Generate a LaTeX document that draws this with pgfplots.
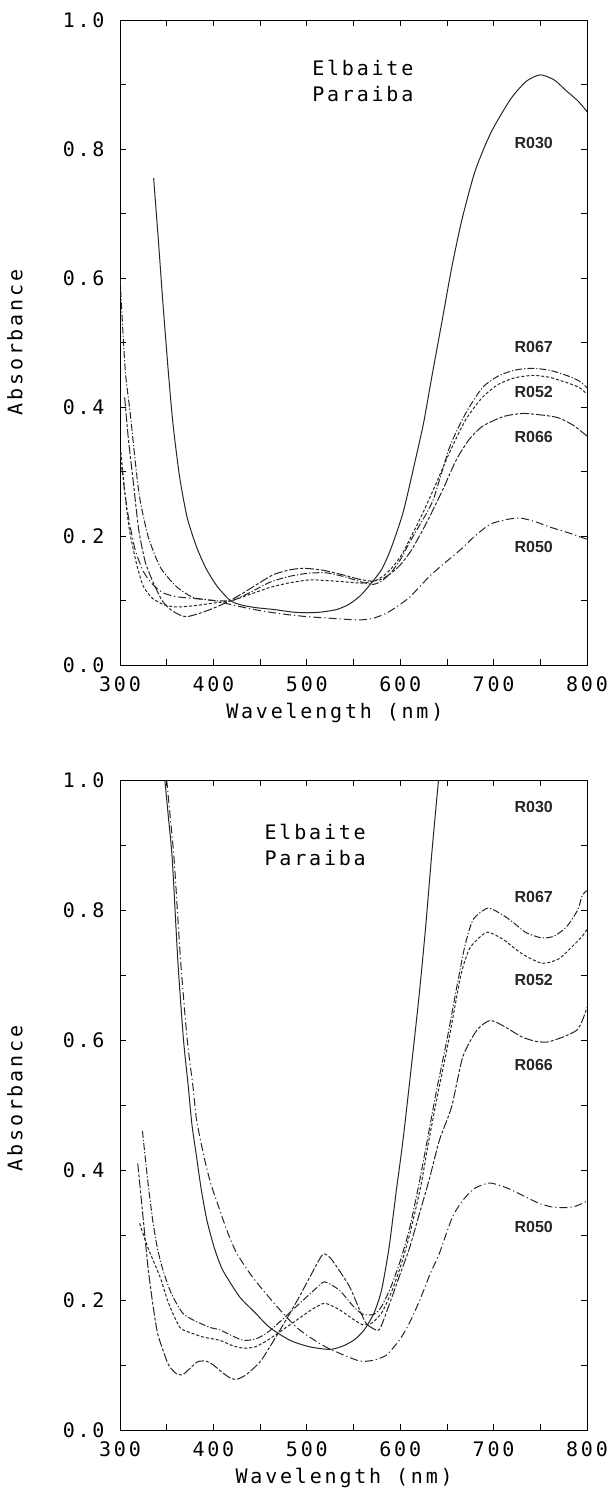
\documentclass[border=0pt]{standalone}
\usepackage{fontspec}
\setmainfont[LetterSpace=14]{DejaVu Sans Mono}
\newfontfamily\lblfont{Liberation Sans}
\usepackage{pgfplots}
\pgfplotsset{compat=1.18}

\pgfplotsset{
  panel/.style={
    scale only axis, width=467bp,
    xmin=300, xmax=800, ymin=0, ymax=1,
    xtick={300,400,500,600,700,800}, minor xtick={350,450,550,650,750},
    ytick={0,0.2,0.4,0.6,0.8,1}, minor ytick={0.1,0.3,0.5,0.7,0.9},
    tick align=inside, major tick length=6bp, minor tick length=6bp,
    every tick/.style={black, line width=0.8bp},
    axis line style={line width=1bp},
    xticklabel={\pgfmathprintnumber[assume math mode=true]{\tick}},
    yticklabel={\pgfmathprintnumber[fixed,fixed zerofill,precision=1,assume math mode=true]{\tick}},
    xticklabel style={anchor=center, yshift=-19bp},
    yticklabel style={anchor=east, xshift=-12bp},
    xlabel={Wavelength (nm)}, ylabel={Absorbance},
    ylabel style={at={(axis description cs:0,0.5)}, anchor=center, yshift=105bp},
    every axis plot/.append style={line width=1bp, black!85, smooth, tension=0.4},
  },
  sR030/.style={solid},
  sR067/.style={dash pattern=on 7bp off 2bp on 1.2bp off 2bp},
  sR052/.style={dash pattern=on 3bp off 2bp},
  sR066/.style={dash pattern=on 9bp off 2bp on 3bp off 2bp},
  sR050/.style={dash pattern=on 8bp off 3bp on 1.2bp off 3bp},
}
\tikzset{rlab/.style={font=\lblfont\bfseries\fontsize{16bp}{16bp}\selectfont, black!85}}

\begin{document}
\begin{tikzpicture}[font=\fontsize{20bp}{22bp}\selectfont]
\path[use as bounding box] (0,0) rectangle (611bp,-1501bp);

% upper panel
\begin{axis}[panel, at={(120bp,-665bp)}, anchor=south west, height=645bp,
  xlabel style={at={(axis description cs:0.46,0)}, anchor=center, yshift=-48bp}]
\addplot[sR030] coordinates {(336,0.755) (341,0.66) (346,0.56) (352,0.45) (357,0.37) (364,0.29) (372,0.228) (382,0.183) (392,0.15) (404,0.122) (418,0.1) (430,0.093) (445,0.089) (465,0.086) (485,0.082) (500,0.081) (515,0.082) (532,0.086) (545,0.094) (557,0.107) (568,0.125) (580,0.148) (590,0.18) (603,0.236) (615,0.31) (625,0.375) (633,0.44) (645,0.535) (655,0.615) (666,0.69) (680,0.765) (697,0.825) (718,0.877) (735,0.905) (750,0.915) (765,0.907) (778,0.89) (790,0.875) (800,0.858)};
\addplot[sR067] coordinates {(300,0.6) (303,0.52) (306,0.45) (311,0.39) (316,0.32) (321,0.26) (330,0.2) (343,0.152) (360,0.122) (378,0.105) (400,0.1) (420,0.1) (440,0.113) (460,0.128) (480,0.137) (500,0.142) (520,0.143) (540,0.137) (560,0.128) (571,0.125) (580,0.13) (590,0.143) (600,0.163) (610,0.19) (620,0.215) (635,0.255) (653,0.338) (670,0.39) (688,0.43) (705,0.448) (722,0.457) (740,0.46) (760,0.457) (780,0.448) (792,0.44) (800,0.43)};
\addplot[sR052] coordinates {(301,0.33) (305,0.27) (310,0.21) (318,0.155) (325,0.122) (335,0.103) (348,0.093) (361,0.09) (380,0.092) (400,0.096) (420,0.1) (440,0.11) (460,0.12) (480,0.127) (503,0.132) (520,0.131) (540,0.129) (558,0.127) (572,0.13) (582,0.138) (592,0.152) (602,0.172) (612,0.2) (624,0.235) (638,0.28) (653,0.33) (670,0.38) (688,0.415) (705,0.435) (722,0.445) (742,0.449) (760,0.446) (780,0.437) (792,0.43) (800,0.42)};
\addplot[sR066] coordinates {(305,0.415) (309,0.35) (314,0.287) (320,0.21) (327,0.16) (335,0.13) (345,0.1) (355,0.085) (365,0.077) (372,0.075) (385,0.08) (400,0.088) (414,0.097) (430,0.11) (450,0.128) (464,0.14) (480,0.147) (496,0.15) (517,0.147) (538,0.14) (556,0.133) (570,0.13) (580,0.133) (590,0.142) (600,0.155) (612,0.178) (628,0.22) (645,0.27) (660,0.318) (674,0.35) (688,0.37) (710,0.385) (731,0.39) (755,0.387) (770,0.383) (785,0.372) (794,0.362) (800,0.355)};
\addplot[sR050] coordinates {(300,0.33) (304,0.28) (309,0.23) (316,0.18) (325,0.145) (335,0.125) (346,0.112) (360,0.106) (380,0.103) (400,0.1) (421,0.093) (440,0.087) (460,0.082) (480,0.078) (500,0.075) (520,0.073) (540,0.071) (557,0.07) (570,0.072) (585,0.08) (599,0.093) (610,0.105) (620,0.12) (631,0.137) (645,0.155) (664,0.178) (680,0.2) (696,0.218) (712,0.225) (728,0.228) (745,0.222) (760,0.214) (780,0.205) (794,0.198) (800,0.195)};
\node[align=left, font=\fontsize{20bp}{26bp}\selectfont] at (axis cs:560,0.905) {Elbaite\\Paraiba};
\node[rlab] at (axis cs:743,0.81) {R030};
\node[rlab] at (axis cs:743,0.493) {R067};
\node[rlab] at (axis cs:743,0.423) {R052};
\node[rlab] at (axis cs:743,0.354) {R066};
\node[rlab] at (axis cs:743,0.183) {R050};
\end{axis}

% lower panel
\begin{axis}[panel, at={(120bp,-1430bp)}, anchor=south west, height=650bp,
  xlabel style={at={(axis description cs:0.48,0)}, anchor=center, yshift=-48bp},
  ylabel style={at={(axis description cs:0,0.51)}}]
\addplot[sR030] coordinates {(348,1.0) (352,0.94) (356,0.877) (362,0.72) (368,0.6) (373,0.53) (377,0.47) (382,0.42) (387,0.37) (393,0.323) (401,0.28) (410,0.246) (428,0.205) (445,0.18) (460,0.158) (482,0.138) (503,0.128) (525,0.124) (540,0.13) (552,0.14) (562,0.155) (572,0.18) (580,0.215) (588,0.28) (596,0.37) (603,0.446) (612,0.56) (620,0.665) (627,0.77) (634,0.89) (641,1.0)};
\addplot[sR067] coordinates {(324,0.46) (330,0.38) (335,0.323) (340,0.28) (346,0.246) (355,0.21) (367,0.18) (380,0.168) (396,0.158) (407,0.154) (420,0.145) (432,0.138) (445,0.14) (457,0.149) (470,0.165) (485,0.185) (500,0.205) (510,0.218) (519,0.228) (535,0.215) (550,0.19) (560,0.178) (572,0.178) (580,0.19) (590,0.22) (600,0.26) (610,0.31) (621,0.385) (629,0.446) (639,0.523) (650,0.6) (660,0.677) (669,0.743) (678,0.785) (694,0.803) (710,0.792) (720,0.782) (735,0.765) (752,0.757) (765,0.76) (778,0.774) (790,0.8) (795,0.823) (800,0.83)};
\addplot[sR052] coordinates {(321,0.318) (330,0.28) (343,0.235) (352,0.195) (364,0.158) (375,0.15) (389,0.143) (407,0.138) (420,0.13) (432,0.126) (445,0.128) (460,0.14) (475,0.155) (490,0.17) (505,0.185) (519,0.195) (535,0.185) (550,0.17) (560,0.162) (570,0.165) (580,0.18) (590,0.21) (600,0.25) (610,0.3) (622,0.375) (630,0.44) (640,0.515) (652,0.6) (665,0.7) (674,0.74) (685,0.758) (694,0.766) (710,0.755) (730,0.733) (752,0.718) (770,0.725) (785,0.745) (795,0.76) (800,0.77)};
\addplot[sR066] coordinates {(319,0.41) (325,0.323) (330,0.25) (335,0.195) (340,0.15) (346,0.123) (352,0.1) (360,0.087) (367,0.085) (375,0.095) (383,0.105) (392,0.106) (400,0.1) (410,0.088) (418,0.08) (425,0.078) (435,0.085) (450,0.105) (463,0.134) (478,0.17) (492,0.205) (505,0.24) (517,0.27) (525,0.265) (535,0.245) (546,0.22) (555,0.19) (563,0.165) (570,0.157) (578,0.155) (590,0.2) (600,0.24) (610,0.28) (620,0.33) (631,0.385) (642,0.446) (655,0.497) (667,0.574) (682,0.615) (696,0.63) (710,0.622) (730,0.605) (745,0.598) (758,0.597) (775,0.605) (789,0.615) (795,0.63) (800,0.65)};
\addplot[sR050] coordinates {(350,1.0) (354,0.94) (358,0.877) (365,0.72) (372,0.6) (378,0.53) (382,0.477) (390,0.42) (397,0.38) (404,0.35) (415,0.305) (425,0.272) (442,0.235) (468,0.19) (489,0.158) (503,0.143) (520,0.128) (540,0.115) (557,0.106) (570,0.107) (585,0.115) (600,0.14) (610,0.165) (621,0.2) (632,0.24) (642,0.272) (656,0.328) (668,0.355) (680,0.372) (696,0.38) (715,0.372) (735,0.358) (750,0.348) (763,0.343) (775,0.342) (787,0.344) (797,0.35) (800,0.352)};
\node[align=left, font=\fontsize{20bp}{26bp}\selectfont] at (axis cs:509,0.90) {Elbaite\\Paraiba};
\node[rlab] at (axis cs:743,0.958) {R030};
\node[rlab] at (axis cs:743,0.82) {R067};
\node[rlab] at (axis cs:743,0.692) {R052};
\node[rlab] at (axis cs:743,0.561) {R066};
\node[rlab] at (axis cs:743,0.313) {R050};
\end{axis}
\end{tikzpicture}
\end{document}
